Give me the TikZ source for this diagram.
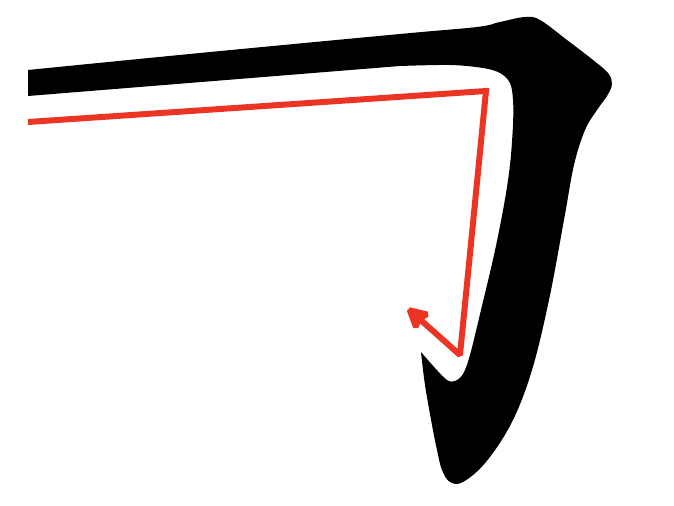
\documentclass[tikz,border=0pt]{standalone}
\usetikzlibrary{arrows.meta}
\definecolor{strokered}{RGB}{235,52,36}

\begin{document}
\begin{tikzpicture}[x=0.02cm,y=-0.02cm,>=Stealth,
  order/.style={strokered,line width=3.4pt,line join=miter,miter limit=1.8}]
\useasboundingbox (0,0) rectangle (674,506);
% brush stroke: horizontal bar, turn and hook
\fill[black] plot[smooth,tension=0.6] coordinates {
    (28,70) (200,53) (400,34) (477,27) (500,22) (525,17) (540,20)
    (567,40) (593,60) (608,73) (612,84) (607,96) (597,110)
    (585,130) (574,165) (564,220) (549,300) (532,370) (512,422)
    (486,462) (463,482) (450,482)
    (442,470) (437,450) (432,425) (425,385) (421,352)}
  -- plot[smooth,tension=0.55] coordinates {
    (421,352) (435,368) (447,380) (455,381) (463,374) (470,355)
    (481,310) (494,255) (504,205) (510,165) (513,125)
    (513,100) (510,83) (500,73) (483,68) (450,65) (400,66)}
  -- (28,96) -- cycle;
% stroke order
\coordinate (start) at (28,122);
\coordinate (bend) at (486,91);
\coordinate (turn) at (460,355);
\coordinate (tip) at (405,306);
\draw[order,-{Stealth[length=15pt,width=15.5pt,inset=2.5pt]}]
  (start) -- (bend) -- (turn) -- (tip);
\end{tikzpicture}
\end{document}
